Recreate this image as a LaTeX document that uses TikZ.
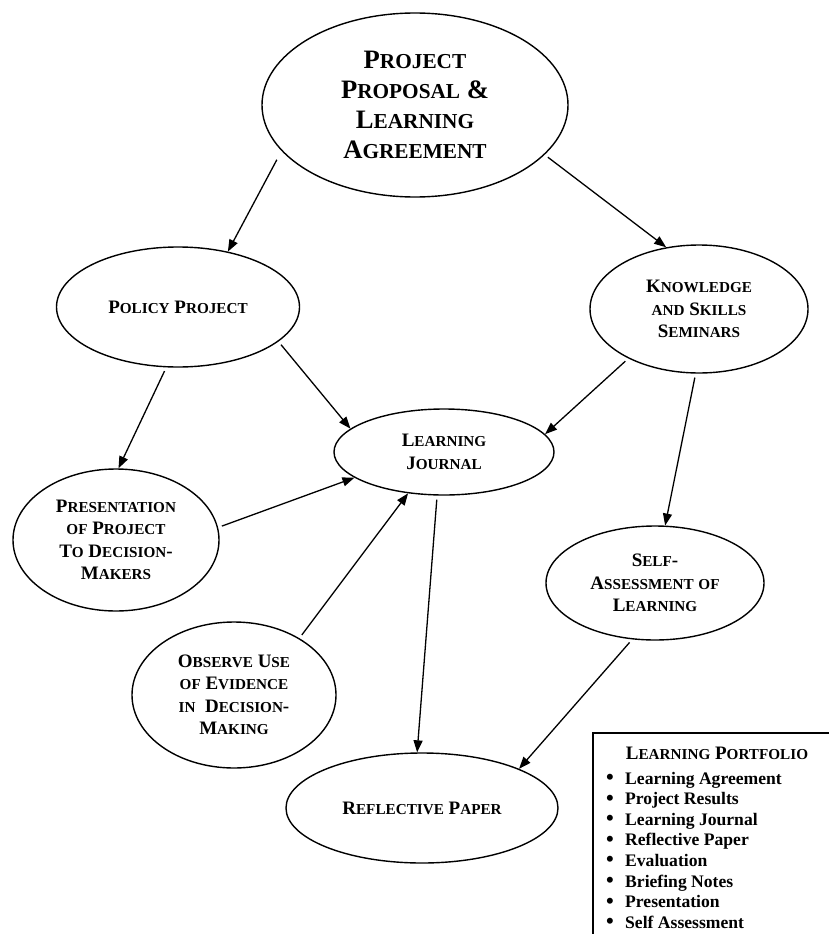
\documentclass[tikz,border=0pt]{standalone}
\usepackage{fontspec}
\setmainfont{Liberation Serif}
\usetikzlibrary{shapes.geometric}
\usetikzlibrary{arrows.meta}
\tikzstyle{every bubble} = []
\tikzstyle{bubble} = [ellipse, draw, line width=1.4pt, inner sep=0pt, align=center, font=\bfseries\fontsize{19}{22.5}\selectfont, every bubble]
\tikzstyle{link} = [-{Triangle[length=12pt,width=9pt]}, draw, line width=1.3pt, shorten <=4pt]
\tikzstyle{item} = [anchor=base west, inner sep=0pt, font=\bfseries\fontsize{17.6}{20}\selectfont]
\newcommand{\lc}[1]{\scalebox{0.8}{#1}}

\begin{document}
\begin{tikzpicture}[x=1pt, y=-1pt]

        \useasboundingbox (0,0) rectangle (828,934);

        \node[bubble, minimum width=306pt, minimum height=184pt, font=\bfseries\fontsize{26.6}{30}\selectfont] (proposal) at (415,105)
            {P\lc{ROJECT}\\ P\lc{ROPOSAL} \&\\ L\lc{EARNING}\\ A\lc{GREEMENT}};

        \node[bubble, minimum width=243pt, minimum height=120pt] (policy) at (178,307) {P\lc{OLICY} P\lc{ROJECT}};
        \node[bubble, minimum width=218pt, minimum height=128pt] (seminars) at (699,309)
            {K\lc{NOWLEDGE}\\ \lc{AND} S\lc{KILLS}\\ S\lc{EMINARS}};

        \node[bubble, minimum width=220pt, minimum height=86pt] (journal) at (444,452) {L\lc{EARNING}\\ J\lc{OURNAL}};

        \node[bubble, minimum width=206pt, minimum height=142pt] (presentation) at (116,540)
            {P\lc{RESENTATION}\\ \lc{OF} P\lc{ROJECT}\\ T\lc{O} D\lc{ECISION}-\\ M\lc{AKERS}};
        \node[bubble, minimum width=218pt, minimum height=114pt] (selfassess) at (655,583)
            {S\lc{ELF}-\\ A\lc{SSESSMENT} \lc{OF}\\ L\lc{EARNING}};
        \node[bubble, minimum width=204pt, minimum height=146pt] (observe) at (234,695)
            {O\lc{BSERVE} U\lc{SE}\\ \lc{OF} E\lc{VIDENCE}\\ \lc{IN}\ \ D\lc{ECISION}-\\ M\lc{AKING}};

        \node[bubble, minimum width=272pt, minimum height=110pt] (reflective) at (422,808) {R\lc{EFLECTIVE} P\lc{APER}};

        % arrows
        \draw[link, shorten <=10pt] (proposal.199) -- (policy.48);
        \draw[link] (proposal.339) -- (seminars.118);
        \draw[link] (policy.259) -- (presentation.88);
        \draw[link] (policy.341) -- (journal.166);
        \draw[link] (seminars.215) -- (journal.10);
        \draw[link] (seminars.267) -- (selfassess.80);
        \draw[link] (presentation.7) -- (journal.196);
        \draw[link] (observe.41) -- (journal.229);
        \draw[link] (journal.261) -- (reflective.95);
        \draw[link] (selfassess.248) -- (reflective.22);

        % portfolio box, running off the page to the right and below
        \draw[line width=1.1pt] (860,733) -- (593,733) -- (593,960);
        \node[anchor=base, inner sep=0pt, font=\bfseries\fontsize{19}{22}\selectfont] (ptitle) at (717,759) {L\lc{EARNING} P\lc{ORTFOLIO}};
        \foreach \txt [count=\i from 0] in {Learning Agreement, Project Results, Learning Journal, Reflective Paper, Evaluation, Briefing Notes, Presentation, Self Assessment}
            \node[item] (item\i) at (606, 784+20.6*\i) {\makebox[19pt][l]{\raisebox{-0.5pt}{\scalebox{1.25}{\textbullet}}}\txt};

\end{tikzpicture}
\end{document}
